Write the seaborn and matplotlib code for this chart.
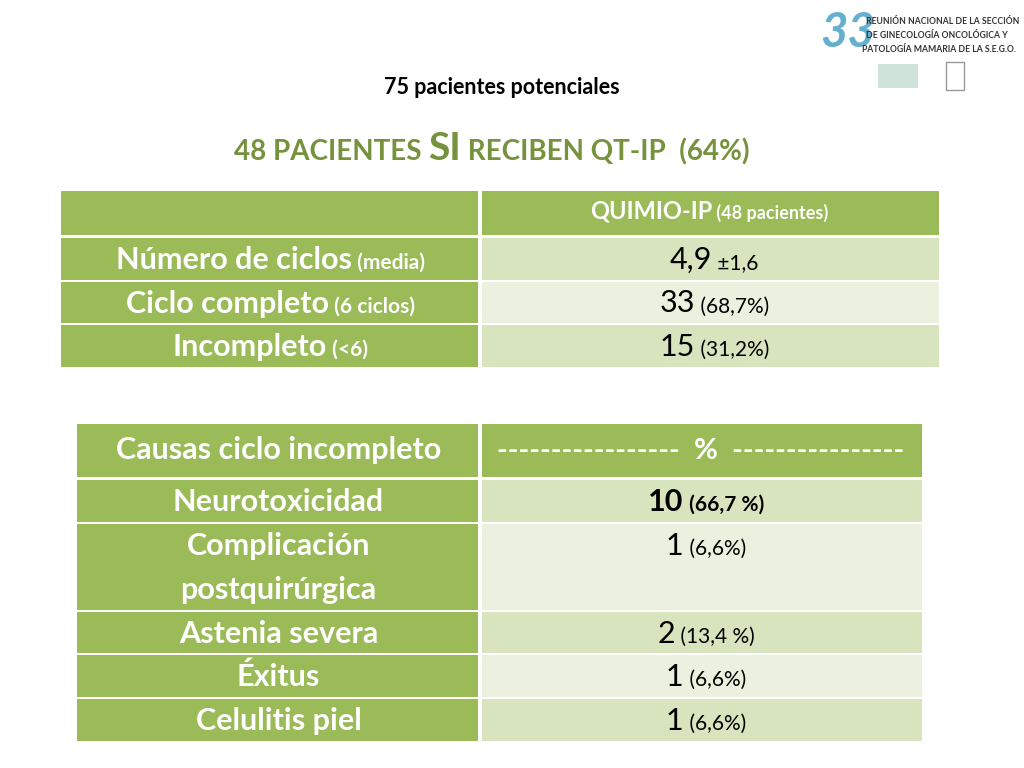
import matplotlib
matplotlib.use("Agg")
import matplotlib.pyplot as plt
from matplotlib.patches import Rectangle
import seaborn as sns

sns.set_theme(style="white", font="Lato")

GREEN = "#9BBB59"
LIGHT1 = "#D7E4BD"
LIGHT2 = "#EBF1DE"
TITLE_GREEN = "#76923C"

# table 1 data: (label, small label), (value, small value)
t1_header = ("QUIMIO-IP", " (48 pacientes)")
t1_labels = [("Número de ciclos", " (media)"), ("Ciclo completo", " (6 ciclos)"), ("Incompleto", " (<6)")]
t1_values = [("4,9", " ±1,6"), ("33", " (68,7%)"), ("15", " (31,2%)")]

# table 2 data
t2_header = ["Causas ciclo incompleto", "-----------------  %  ----------------"]
t2_labels = ["Neurotoxicidad", "Complicación\npostquirúrgica", "Astenia severa", "Éxitus", "Celulitis piel"]
t2_counts = ["10", "1", "2", "1", "1"]
t2_pcts = [" (66,7 %)", " (6,6%)", " (13,4 %)", " (6,6%)", " (6,6%)"]

fig = plt.figure(figsize=(10.24, 7.68), dpi=100)
ax = fig.add_axes([0, 0, 1, 1])
ax.set_xlim(0, 1024)
ax.set_ylim(768, 0)
ax.axis("off")
fig.canvas.draw()
renderer = fig.canvas.get_renderer()


def runs(cx, y, parts, ha="center"):
    objs = []
    for txt, size, weight, color in parts:
        t = ax.text(0, y, txt, fontsize=size, fontweight=weight, color=color,
                    ha="left", va="baseline")
        objs.append(t)
    widths = []
    inv = ax.transData.inverted()
    for t in objs:
        bb = t.get_window_extent(renderer)
        p0 = inv.transform((bb.x0, bb.y0))
        p1 = inv.transform((bb.x1, bb.y1))
        widths.append(p1[0] - p0[0])
    x = cx - sum(widths) / 2 if ha == "center" else cx
    for t, w in zip(objs, widths):
        t.set_x(x)
        x += w


def cell(x0, x1, y0, y1, color):
    ax.add_patch(Rectangle((x0, y0), x1 - x0, y1 - y0, facecolor=color, edgecolor="none"))


BIG, SMALL = 22, 15

# titles
ax.text(502, 87, "75 pacientes potenciales", fontsize=15.5, fontweight="bold",
        color="black", ha="center", va="center")
runs(492, 160, [("48 PACIENTES ", 20, "bold", TITLE_GREEN), ("SI", 28, "bold", TITLE_GREEN),
                (" RECIBEN QT-IP  (64%)", 20, "bold", TITLE_GREEN)])

# logo
ax.text(820, 47, "33", fontsize=34, fontweight="bold", color="#4BA3C7", style="italic",
        ha="left", va="baseline", alpha=0.85)
for i, line in enumerate(["REUNIÓN NACIONAL DE LA SECCIÓN", "DE GINECOLOGÍA ONCOLÓGICA Y",
                          "PATOLOGÍA MAMARIA DE LA S.E.G.O."]):
    ax.text(866 if i < 2 else 862, 22 + i * 14, line, fontsize=6.2, fontweight="bold",
            color="#333333", ha="left", va="center")
ax.add_patch(Rectangle((878, 64), 40, 24, facecolor="#CFE3D8", edgecolor="none"))
ax.add_patch(Rectangle((946, 62), 18, 28, facecolor="white", edgecolor="#999999", lw=1))

# table 1
L, M, R = 61, 480, 939
cell(L, M - 2, 191, 235, GREEN)
cell(M + 2, R, 191, 235, GREEN)
runs((M + R) / 2, 219, [(t1_header[0], 17, "bold", "white"), (t1_header[1], 13, "bold", "white")])
rows1 = [(238, 280), (282, 323), (325, 367)]
for i, (y0, y1) in enumerate(rows1):
    cell(L, M - 2, y0, y1, GREEN)
    cell(M + 2, R, y0, y1, LIGHT1 if i % 2 == 0 else LIGHT2)
    base = (y0 + y1) / 2 + 10
    runs((L + M) / 2, base, [(t1_labels[i][0], BIG, "bold", "white"), (t1_labels[i][1], SMALL, "bold", "white")])
    runs((M + R) / 2 + 5, base, [(t1_values[i][0], BIG, "normal", "black"), (t1_values[i][1], SMALL, "normal", "black")])

# table 2
L, M, R = 77, 480, 922
cell(L, M - 2, 424, 477, GREEN)
cell(M + 2, R, 424, 477, GREEN)
runs((L + M) / 2, 459, [(t2_header[0], BIG, "bold", "white")])
runs((M + R) / 2, 459, [(t2_header[1], 21, "bold", "white")])
rows2 = [(480, 522), (524, 610), (612, 653), (655, 697), (699, 741)]
for i, (y0, y1) in enumerate(rows2):
    cell(L, M - 2, y0, y1, GREEN)
    cell(M + 2, R, y0, y1, LIGHT1 if i % 2 == 0 else LIGHT2)
    lines = t2_labels[i].split("\n")
    for j, ln in enumerate(lines):
        runs((L + M) / 2, y0 + 31 + j * 44, [(ln, BIG, "bold", "white")])
    w = "bold" if i == 0 else "normal"
    runs((M + R) / 2 + 5, y0 + 31, [(t2_counts[i], BIG, w, "black"), (t2_pcts[i], SMALL, w, "black")])

fig.savefig("out.png", dpi=100)
